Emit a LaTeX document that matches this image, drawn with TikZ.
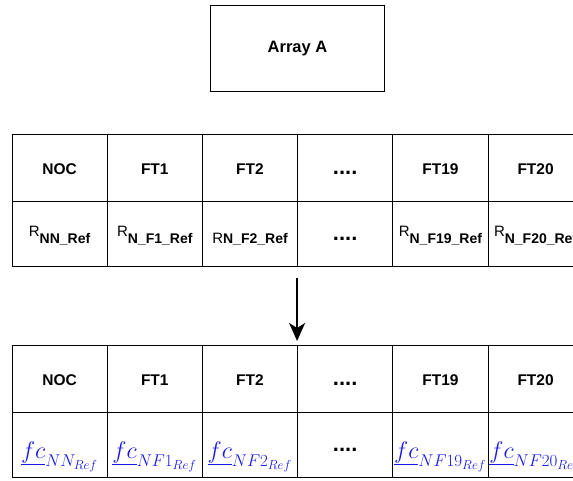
\RequirePackage{fix-cm}
\documentclass[tikz,border=0pt]{standalone}
\usepackage{fontspec}
\setmainfont{Liberation Sans}
\usetikzlibrary{arrows.meta}
\DeclareMathSizes{24}{24}{17}{13}
\definecolor{fcblue}{RGB}{25,25,235}
% R with a bold, lowered index
\newcommand{\Rsub}[1]{{\fontsize{15}{18}\selectfont R}\raisebox{-7pt}{\fontsize{14}{16}\selectfont\bfseries #1}}
\newcommand{\dotsrow}{....}
\begin{document}
\begin{tikzpicture}[x=1pt,y=-1pt,
  box/.style={draw, line width=1pt, inner sep=0pt, anchor=north west, minimum width=95.2pt},
  hdcell/.style={box, minimum height=67pt, text height=13pt, text depth=0pt,
    font=\fontsize{15.5}{18}\selectfont\bfseries},
  rcell/.style={box, minimum height=65pt, text height=5pt, text depth=0pt},
  fccell/.style={box, minimum height=65pt, text height=27pt, text depth=0pt,
    text=fcblue, font=\fontsize{24}{28}\selectfont},
  dotcell/.style={text height=13pt, text depth=0pt, text=black,
    font=\fontsize{22}{24}\selectfont\bfseries},
  arrowline/.style={line width=2pt, -{Stealth[length=18pt,width=16pt,inset=5pt]}}]
\useasboundingbox (0,0) rectangle (573,481);
\fill[white] (0,0) rectangle (573,481);
\clip (0,0) rectangle (573,481);

% input array
\node[draw, line width=1pt, anchor=north west, minimum width=174pt, minimum height=86pt,
  font=\fontsize{16.5}{20}\selectfont\bfseries] (arrA) at (210,5) {Array A};

% first table: names and reference values
\node[hdcell] (a0) at (11.5,134) {NOC};
\node[hdcell] (a1) at (106.7,134) {FT1};
\node[hdcell] (a2) at (201.9,134) {FT2};
\node[hdcell, dotcell] (a3) at (297.1,134) {\dotsrow};
\node[hdcell] (a4) at (392.3,134) {FT19};
\node[hdcell] (a5) at (487.5,134) {FT20};

\node[rcell] (b0) at (11.5,201) {\Rsub{NN\_Ref}};
\node[rcell] (b1) at (106.7,201) {\Rsub{N\_F1\_Ref}};
\node[rcell] (b2) at (201.9,201) {\raisebox{-7pt}{\fontsize{15}{18}\selectfont R\fontsize{14}{16}\selectfont\bfseries N\_F2\_Ref}};
\node[rcell, dotcell] (b3) at (297.1,201) {\dotsrow};
\node[rcell] (b4) at (392.3,201) {\Rsub{N\_F19\_Ref}};
\node[rcell] (b5) at (487.5,201) {\Rsub{N\_F20\_Ref}};

% transformation arrow
\coordinate (arrS) at (297.1,278);
\coordinate (arrE) at (297.1,341);
\draw[arrowline] (arrS) -- (arrE);

% second table: names and fitness coefficients
\node[hdcell] (c0) at (11.5,345) {NOC};
\node[hdcell] (c1) at (106.7,345) {FT1};
\node[hdcell] (c2) at (201.9,345) {FT2};
\node[hdcell, dotcell] (c3) at (297.1,345) {\dotsrow};
\node[hdcell] (c4) at (392.3,345) {FT19};
\node[hdcell] (c5) at (487.5,345) {FT20};

\node[fccell] (d0) at (11.5,412) {$\underline{fc}_{NN_{Ref}}$};
\node[fccell] (d1) at (106.7,412) {$\underline{fc}_{NF1_{Ref}}$};
\node[fccell] (d2) at (201.9,412) {$\underline{fc}_{NF2_{Ref}}$};
\node[fccell, dotcell] (d3) at (297.1,412) {\dotsrow};
\node[fccell] (d4) at (392.3,412) {$\underline{fc}_{NF19_{Ref}}$};
\node[fccell] (d5) at (487.5,412) {$\underline{fc}_{NF20_{Ref}}$};
\end{tikzpicture}
\end{document}
